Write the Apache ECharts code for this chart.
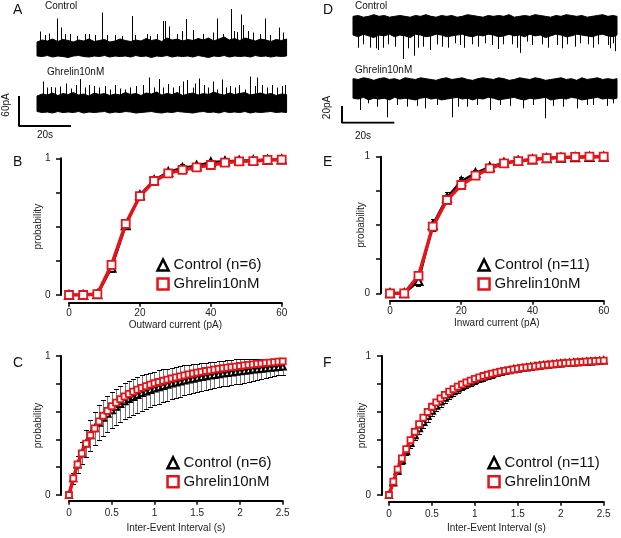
<!DOCTYPE html>
<html><head><meta charset="utf-8">
<script src="https://cdn.jsdelivr.net/npm/echarts@6/dist/echarts.min.js"></script>
<style>html,body{margin:0;padding:0;background:#fff}#c{width:621px;height:538px}</style>
</head><body><div id="c"></div><script>
// ---------- DATA ----------
// Panel B / E : amplitude cumulative probability
const ampX = [0,4,8,12,16,20,24,28,32,36,40,44,48,52,56,60];
const ampCtlB = [0,0,0.005,0.20,0.51,0.73,0.84,0.90,0.93,0.945,0.972,0.978,0.983,0.986,0.99,0.992];
const ampCtlBErr = [0,0,0.005,0.03,0.03,0.025,0.02,0.02,0.025,0.02,0.01,0.01,0.008,0.006,0.005,0.004];
const ampGhrB = [0,0,0.007,0.22,0.52,0.724,0.834,0.89,0.915,0.934,0.951,0.968,0.978,0.98,0.988,0.99];
const ampCtlE = [0,0,0.09,0.50,0.70,0.82,0.88,0.925,0.955,0.97,0.98,0.988,0.993,0.996,0.998,1.0];
const ampCtlEErr = [0,0,0.04,0.045,0.045,0.035,0.025,0.015,0.01,0.008,0.006,0.005,0.004,0.003,0.002,0.002];
const ampGhrE = [0,0,0.127,0.488,0.683,0.793,0.861,0.915,0.951,0.968,0.98,0.99,0.995,0.998,1.0,1.0];

// Panel C / F : inter-event interval cumulative probability
const iei = [0,0.05,0.1,0.15,0.2,0.25,0.3,0.35,0.4,0.45,0.5,0.55,0.6,0.65,0.7,0.75,0.8,0.85,0.9,0.95,1,1.05,1.1,1.15,1.2,1.25,1.3,1.35,1.4,1.45,1.5,1.55,1.6,1.65,1.7,1.75,1.8,1.85,1.9,1.95,2,2.05,2.1,2.15,2.2,2.25,2.3,2.35,2.4,2.45,2.5];
const ieiGhrC = [0,0.12,0.22,0.30,0.37,0.43,0.48,0.53,0.57,0.605,0.64,0.665,0.69,0.71,0.728,0.744,0.758,0.771,0.783,0.794,0.804,0.813,0.822,0.83,0.838,0.846,0.854,0.861,0.868,0.874,0.88,0.886,0.892,0.897,0.902,0.907,0.912,0.916,0.92,0.924,0.928,0.932,0.936,0.94,0.943,0.946,0.95,0.953,0.956,0.959,0.962];
const ieiCtlC = [0,0.12,0.22,0.30,0.37,0.43,0.48,0.52,0.555,0.585,0.61,0.635,0.655,0.675,0.69,0.705,0.72,0.733,0.745,0.756,0.766,0.776,0.785,0.794,0.802,0.81,0.817,0.824,0.831,0.837,0.843,0.849,0.854,0.859,0.864,0.869,0.874,0.878,0.882,0.886,0.89,0.894,0.898,0.902,0.905,0.909,0.912,0.915,0.918,0.921,0.924];
const ieiCtlCErr = [0,0.04,0.06,0.08,0.10,0.11,0.12,0.125,0.13,0.13,0.13,0.13,0.13,0.13,0.13,0.13,0.13,0.128,0.126,0.124,0.122,0.12,0.118,0.116,0.114,0.112,0.11,0.108,0.106,0.104,0.102,0.1,0.098,0.096,0.095,0.094,0.093,0.092,0.091,0.09,0.088,0.085,0.082,0.079,0.076,0.073,0.07,0.067,0.064,0.061,0.058];
const ieiGhrF = [0,0.096,0.185,0.264,0.33,0.395,0.455,0.51,0.556,0.598,0.635,0.667,0.695,0.72,0.743,0.762,0.78,0.796,0.81,0.823,0.835,0.846,0.856,0.865,0.873,0.88,0.887,0.893,0.899,0.904,0.909,0.914,0.918,0.922,0.926,0.93,0.934,0.937,0.94,0.943,0.946,0.949,0.951,0.953,0.955,0.957,0.959,0.961,0.963,0.965,0.967];
const ieiCtlF = [0,0.09,0.175,0.25,0.315,0.375,0.43,0.48,0.525,0.568,0.607,0.642,0.673,0.7,0.724,0.746,0.766,0.784,0.8,0.814,0.827,0.839,0.85,0.86,0.869,0.877,0.885,0.892,0.898,0.904,0.909,0.914,0.918,0.922,0.926,0.93,0.934,0.937,0.94,0.943,0.946,0.949,0.951,0.953,0.955,0.957,0.959,0.961,0.963,0.965,0.967];
const ieiCtlFErr = [0,0.02,0.025,0.03,0.03,0.035,0.035,0.04,0.04,0.04,0.04,0.04,0.038,0.036,0.035,0.034,0.033,0.032,0.031,0.03,0.029,0.028,0.027,0.026,0.025,0.024,0.023,0.022,0.021,0.02,0.02,0.019,0.018,0.018,0.017,0.017,0.016,0.016,0.015,0.015,0.014,0.014,0.013,0.013,0.012,0.012,0.012,0.011,0.011,0.011,0.01];

// Traces (time in s, current in pA relative to baseline)
const tA = [0,2,4,6,8,10,12,14,16,18,20,22,24,26,28,30,32,34,36,38,40,42,44,46,48,50,52,54,56,58,60,62,64,66,68,70,72,74,76,78,80,82,84,86,88,90,92,94,96];
const ctlA_hi = [16,20,18,22,17,21,19,16,20,18,22,17,19,21,16,18,22,19,17,20,18,23,19,21,17,24,20,22,18,21,19,23,20,24,18,22,26,20,23,19,24,21,18,22,20,17,21,19,22];
const ctlA_lo = [-12,-13,-11,-14,-12,-13,-15,-12,-11,-13,-14,-12,-13,-11,-14,-12,-13,-12,-14,-11,-13,-12,-15,-12,-13,-11,-14,-12,-13,-12,-14,-11,-13,-15,-12,-13,-11,-14,-12,-13,-12,-14,-11,-13,-12,-14,-12,-13,-12];
const ghrA_hi = [20,24,22,26,21,25,23,27,22,24,20,26,23,25,21,24,22,27,23,25,21,26,24,28,22,25,23,27,21,24,26,22,25,23,28,24,22,26,23,25,27,22,24,26,23,25,21,24,23];
const ghrA_lo = [-11,-13,-12,-14,-11,-13,-12,-13,-11,-14,-12,-13,-12,-11,-14,-12,-13,-11,-12,-14,-13,-12,-11,-13,-14,-12,-13,-11,-12,-13,-14,-12,-11,-13,-12,-14,-11,-13,-12,-13,-11,-14,-12,-13,-12,-11,-13,-12,-13];
const ctlA_spikes = [[7.6,63],[9.1,45],[24.9,75],[36.4,68],[48.3,58],[49.1,58],[50.9,47],[57.3,62],[60.1,40],[69.1,63],[74.5,82],[78.3,71],[79.3,50],[87.7,63],[93.2,45],
  [1.2,37],[3.1,30],[4.6,33],[10.8,32],[12.7,32],[15.3,28],[18.5,32],[20.1,32],[22.3,30],[27.0,30],[30.0,30],[32.6,28],[37.7,30],[42.2,32],[43.5,28],[46.0,32],[53.7,32],[55.7,38],[64.0,32],[67.8,35],[71.7,32],[75.8,38],[76.8,36],[81.3,38],[83.2,35],[85.8,32],[89.6,30],[94.7,35]];
const ghrA_spikes = [[2.2,49],[3.7,37],[5.3,38],[6.9,37],[8.8,39],[11.2,45],[13.0,35],[15.0,42],[16.5,54],[18.5,37],[20.1,42],[21.9,40],[24.0,37],[26.2,40],[28.1,33],[30.0,42],[31.9,35],[33.8,33],[35.8,37],[38.1,40],[40.9,42],[43.2,57],[45.0,37],[47.0,54],[48.6,37],[50.5,44],[52.4,37],[54.7,40],[56.0,49],[57.8,52],[59.9,37],[60.8,45],[62.4,55],[64.2,42],[65.9,37],[67.8,49],[69.3,33],[71.0,53],[72.7,37],[74.2,40],[76.2,37],[77.8,42],[80.0,33],[81.9,59],[83.8,40],[84.7,57],[86.4,42],[88.3,37],[90.3,42],[92.2,37],[94.1,40],[95.4,42]];
const tD = [0,2,4,6,8,10,12,14,16,18,20,22,24,26,28,30,32,34,36,38,40,42,44,46,48,50,52,54,56,58,60,62,64,66,68,70,72,74,76,78,80,82,84,86,88,90,92,94,96,98,100,101.5];
const ctlD_hi = [9,10,8,9,11,9,10,8,9,10,9,8,10,9,11,9,8,10,9,10,8,9,11,10,9,8,10,9,10,9,11,8,9,10,9,11,10,9,8,10,9,11,10,9,10,8,9,10,11,9,10,9];
const ctlD_lo = [-13,-15,-12,-14,-16,-13,-14,-12,-15,-13,-14,-16,-12,-13,-15,-14,-12,-13,-15,-14,-13,-12,-14,-15,-13,-14,-12,-13,-15,-14,-12,-14,-13,-15,-12,-14,-13,-16,-14,-12,-13,-15,-14,-12,-13,-14,-15,-13,-12,-14,-15,-13];
const ghrD_hi = [11,10,12,11,9,11,12,10,11,9,12,11,10,12,11,10,9,11,12,10,11,12,10,9,11,12,11,10,12,11,9,10,12,11,10,12,11,9,10,11,12,10,11,9,12,10,11,12,10,11,10,11];
const ghrD_lo = [-12,-13,-11,-14,-12,-13,-12,-14,-11,-13,-12,-13,-14,-12,-11,-13,-12,-14,-13,-12,-11,-13,-12,-14,-12,-13,-11,-12,-14,-13,-12,-11,-13,-14,-12,-13,-12,-11,-14,-13,-12,-13,-11,-12,-14,-13,-12,-11,-13,-12,-13,-12];
const ctlD_spikes = [[2.0,-27.9],[4.0,-23.9],[6.5,-27.9],[8.7,-28.6],[9.7,-30.6],[11.7,-27.9],[13.6,-23.9],[16.2,-26.7],[19.3,-41.2],[21.3,-28.6],[23.6,-37.3],[25.1,-27.9],[27.1,-26.7],[29.6,-30.6],[32.2,-23.9],[34.1,-26.7],[36.7,-27.9],[39.2,-22.7],[41.2,-24.7],[42.8,-27.9],[45.7,-23.9],[48.2,-26.7],[50.8,-22.7],[53.3,-24.7],[55.9,-29.4],[57.8,-23.9],[61.0,-23.9],[63.0,-27.9],[64.2,-34],[66.8,-20.8],[68.7,-24.7],[72.6,-23.9],[75.1,-27.9],[78.3,-24.7],[80.3,-28.6],[82.2,-23.9],[85.4,-26.7],[87.3,-22.7],[90.5,-23.9],[92.4,-27.9],[94.3,-23.9],[98.2,-24.7],[98.8,-28.6],[100.1,-22.7],[100.8,-32]];
const ghrD_spikes = [[2.7,-25.9],[5.9,-18],[9.1,-22],[13.2,-34.5],[16.8,-20],[20.6,-22],[24.5,-21],[27.7,-23.9],[32.2,-20],[38.0,-34.5],[40.5,-22],[43.7,-22],[47.6,-20],[52.7,-25.9],[56.5,-20],[60.4,-21],[65.5,-23.9],[69.3,-20],[73.8,-35.6],[77.0,-21],[80.9,-22],[86.0,-23.9],[89.9,-20],[92.4,-20],[97.6,-21],[100.1,-18]];
// scale bars
const scaleA = {sec:20, pA:60};
const scaleD = {sec:20, pA:20};

// ---------- CHART ----------
const FONT = 'Liberation Sans, Arial, Helvetica, sans-serif';
const RED = '#e3151b';
const chart = echarts.init(document.getElementById('c'), null, {renderer:'canvas', width:621, height:538});

const grids = [
  {left:37, top:5, width:249.6, height:55},
  {left:37, top:70, width:249.6, height:48},
  {left:353, top:10.4, width:264, height:51.85},
  {left:353, top:74.4, width:264, height:47.6},
  {left:19, top:96, width:52, height:30},
  {left:342, top:106, width:52.3, height:16.7},
  {left:69, top:158.3, width:212.7, height:136.7},
  {left:390, top:156.7, width:213.7, height:136.6},
  {left:69, top:356, width:213.7, height:139},
  {left:389, top:356, width:214.7, height:139}
].map(g => Object.assign({outerBoundsMode:'none', containLabel:false}, g));

function hx(gi,min,max){return {gridIndex:gi,type:'value',min,max,show:false};}
const xAxes = [hx(0,0,96),hx(1,0,96),hx(2,0,101.5),hx(3,0,101.5),hx(4,0,scaleA.sec),hx(5,0,scaleD.sec)];
const yAxes = [hx(0,-20,90),hx(1,-24,72),hx(2,-45,16),hx(3,-40,16),hx(4,0,scaleA.pA),hx(5,0,scaleD.pA)];

const txt = {fontSize:10,color:'#222',fontFamily:FONT};
function plotX(gi,max,interval,name,offset,margin,nameGap){
  return {gridIndex:gi,type:'value',min:0,max,interval,offset,name,nameLocation:'middle',nameGap,nameMoveOverlap:false,
    nameTextStyle:txt,axisLine:{show:true,onZero:false,lineStyle:{color:'#000',width:2}},
    axisTick:{show:true,length:4,lineStyle:{color:'#000',width:1.5}},
    axisLabel:Object.assign({margin},txt),splitLine:{show:false}};
}
function plotY(gi,interval,offset,nameGap,margin){
  return {gridIndex:gi,type:'value',min:0,max:1,interval,offset,name:'probability',nameLocation:'middle',nameGap,nameRotate:90,nameMoveOverlap:false,
    nameTextStyle:txt,axisLine:{show:true,onZero:false,lineStyle:{color:'#000',width:2}},
    axisTick:{show:true,length:5,lineStyle:{color:'#000',width:1.5}},
    axisLabel:Object.assign({margin,formatter:v=>(Math.abs(v)<1e-9?'0':(Math.abs(v-1)<1e-9?'1':''))},txt),splitLine:{show:false}};
}
xAxes.push(plotX(6,60,20,'Outward current (pA)',7.7,5.5,17.5));
xAxes.push(plotX(7,60,20,'Inward current (pA)',7.4,5.5,17.5));
xAxes.push(plotX(8,2.5,0.5,'Inter-Event Interval (s)',5.7,8,22.5));
xAxes.push(plotX(9,2.5,0.5,'Inter-Event Interval (s)',6.7,8,22));
yAxes.push(plotY(6,0.25,8,18,10.5));
yAxes.push(plotY(7,0.25,9,14.5,11));
yAxes.push(plotY(8,0.2,8,18,10.5));
yAxes.push(plotY(9,0.2,7,15,11));

const series = [];
// noise envelope of a trace: one filled polygon between the lower and upper envelope
function band(ai,t,lo,hi){
  series.push({type:'custom',xAxisIndex:ai,yAxisIndex:ai,data:t.map((v,i)=>[v,lo[i],hi[i]]),silent:true,
    renderItem:(p,api)=>{
      if(p.dataIndex!==0) return null;
      const pts=[];
      for(let i=0;i<t.length;i++) pts.push(api.coord([t[i],hi[i]]));
      for(let i=t.length-1;i>=0;i--) pts.push(api.coord([t[i],lo[i]]));
      return {type:'polygon',shape:{points:pts},style:{fill:'#000',stroke:'#000',lineWidth:1}};
    }});
}
function spikes(ai,arr){
  series.push({type:'custom',xAxisIndex:ai,yAxisIndex:ai,data:arr,silent:true,
    renderItem:(p,api)=>{const a=api.coord([api.value(0),0]),b=api.coord([api.value(0),api.value(1)]);
      const x=Math.round(a[0])+0.5;
      return {type:'line',shape:{x1:x,y1:a[1],x2:x,y2:b[1]},style:{stroke:'#000',lineWidth:1}};}});
}
band(0,tA,ctlA_lo,ctlA_hi); spikes(0,ctlA_spikes);
band(1,tA,ghrA_lo,ghrA_hi); spikes(1,ghrA_spikes);
band(2,tD,ctlD_lo,ctlD_hi); spikes(2,ctlD_spikes);
band(3,tD,ghrD_lo,ghrD_hi); spikes(3,ghrD_spikes);
series.push({type:'line',xAxisIndex:4,yAxisIndex:4,data:[[0,scaleA.pA],[0,0],[scaleA.sec,0]],symbol:'none',lineStyle:{color:'#000',width:2},silent:true});
series.push({type:'line',xAxisIndex:5,yAxisIndex:5,data:[[0,scaleD.pA],[0,0],[scaleD.sec,0]],symbol:'none',lineStyle:{color:'#000',width:2},silent:true});

function errBars(ai,x,y,e,color,capW){
  series.push({type:'custom',xAxisIndex:ai,yAxisIndex:ai,data:x.map((v,i)=>[v,y[i],e[i]]),silent:true,z:1,
    renderItem:(p,api)=>{const xv=api.value(0),yv=api.value(1),ev=api.value(2);
      if(!ev) return null;
      const h=api.coord([xv,yv+ev]),l=api.coord([xv,yv-ev]),w=capW/2;
      const cx=Math.round(h[0])+0.5, hy=Math.round(h[1])+0.5, ly=Math.round(l[1])+0.5;
      const st={stroke:color,lineWidth:1};
      const cst={stroke:'#000',lineWidth:1};
      return {type:'group',children:[
        {type:'line',shape:{x1:cx,y1:hy,x2:cx,y2:ly},style:st},
        {type:'line',shape:{x1:cx-w,y1:hy,x2:cx+w,y2:hy},style:cst},
        {type:'line',shape:{x1:cx-w,y1:ly,x2:cx+w,y2:ly},style:cst}]};}});
}
function curves(ai,x,ctl,ghr,ctlName,symSize){
  series.push({type:'line',name:ctlName,xAxisIndex:ai,yAxisIndex:ai,data:x.map((v,i)=>[v,ctl[i]]),z:2,
    lineStyle:{color:'#000',width:2.5},symbol:'triangle',symbolSize:symSize,
    itemStyle:{color:'#fff',borderColor:'#000',borderWidth:2},showAllSymbol:true,animation:false});
  series.push({type:'line',name:'Ghrelin10nM',xAxisIndex:ai,yAxisIndex:ai,data:x.map((v,i)=>[v,ghr[i]]),z:3,
    lineStyle:{color:RED,width:3.5},symbol:'rect',symbolSize:symSize,
    itemStyle:{color:'#fff',borderColor:RED,borderWidth:1.8},showAllSymbol:true,animation:false});
}
errBars(6,ampX,ampCtlB,ampCtlBErr,'#000',5); curves(6,ampX,ampCtlB,ampGhrB,'Control (n=6)',8);
errBars(7,ampX,ampCtlE,ampCtlEErr,'#000',5); curves(7,ampX,ampCtlE,ampGhrE,'Control (n=11)',8);
errBars(8,iei,ieiCtlC,ieiCtlCErr,'#777',5); curves(8,iei,ieiCtlC,ieiGhrC,'Control (n=6)',6);
errBars(9,iei,ieiCtlF,ieiCtlFErr,'#444',5); curves(9,iei,ieiCtlF,ieiGhrF,'Control (n=11)',6);

function legend(left,top,ctlName){
  return {left,top,orient:'vertical',padding:0,itemGap:4,itemWidth:11,itemHeight:11,selectedMode:false,
    textStyle:{fontSize:15,color:'#111',fontFamily:FONT},
    data:[{name:ctlName,icon:'triangle',itemStyle:{color:'#fff',borderColor:'#000',borderWidth:2.5}},
          {name:'Ghrelin10nM',icon:'rect',itemStyle:{color:'#fff',borderColor:RED,borderWidth:2.5}}]};
}

function T(text,x,y,size,opts){return Object.assign({type:'text',x,y,silent:true,style:{text,font:size+'px '+FONT,fill:'#111',align:'left',verticalAlign:'middle'}},opts||{});}
const graphics = [
  T('A',13,10,14),T('D',323,10,14),T('B',13,162.5,14),T('E',323,162,14),T('C',13,363,14),T('F',323,363,14),
  T('Control',45,6.5,10),T('Ghrelin10nM',47,72,10),T('Control',355,6.5,10),T('Ghrelin10nM',355,70.5,10),
  T('20s',37,135,10),T('20s',355,136,10),
  {type:'text',x:6.3,y:105,rotation:Math.PI/2,silent:true,style:{text:'60pA',font:'10px '+FONT,fill:'#111',align:'center',verticalAlign:'middle'}},
  {type:'text',x:327,y:107.5,rotation:Math.PI/2,silent:true,style:{text:'20pA',font:'10px '+FONT,fill:'#111',align:'center',verticalAlign:'middle'}}
];

chart.setOption({
  animation:false,
  backgroundColor:'#fff',
  textStyle:{fontFamily:FONT},
  grid:grids, xAxis:xAxes, yAxis:yAxes, series,
  legend:[legend(156.3,257.5,'Control (n=6)'),legend(477.3,257.5,'Control (n=11)'),legend(166.3,455.2,'Control (n=6)'),legend(487.3,455.2,'Control (n=11)')],
  graphic:graphics
});
</script></body></html>
